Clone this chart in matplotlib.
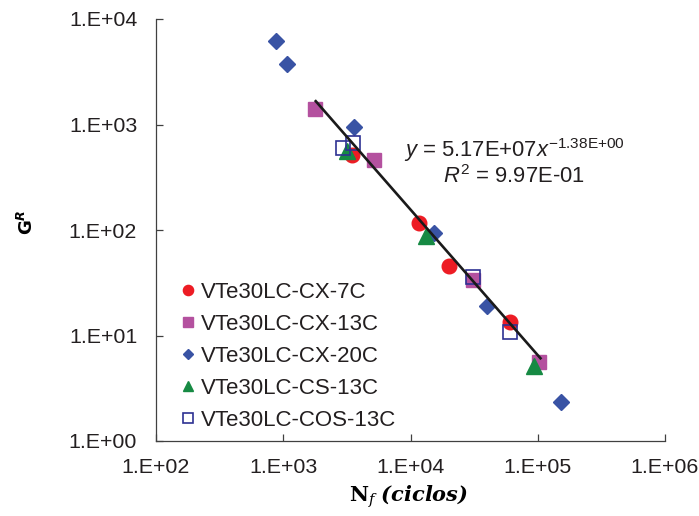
import numpy as np
import matplotlib
matplotlib.use("Agg")
import matplotlib.pyplot as plt

plt.rcParams['font.family'] = ['Liberation Sans', 'DejaVu Sans']
plt.rcParams['mathtext.fontset'] = 'custom'
plt.rcParams['mathtext.rm'] = 'Liberation Sans'
plt.rcParams['mathtext.it'] = 'Liberation Sans:italic'
plt.rcParams['mathtext.bf'] = 'Liberation Sans:bold'

# Fatigue life (cycles) and G^R for each mixture series
cx7_n = [3470, 11640, 20050, 60400]
cx7_g = [514, 116, 45.6, 13.4]

cx13_n = [1774, 5150, 30900, 102000]
cx13_g = [1403, 461, 33.6, 5.61]

cx20_n = [877, 1069, 3590, 15280, 39800, 151700]
cx20_g = [6180, 3740, 946, 93.8, 19.0, 2.34]

cs13_n = [3165, 13210, 93100]
cs13_g = [561, 87.7, 5.14]

cos13_n = [2945, 3530, 30900, 60400]
cos13_g = [598, 669, 35.9, 10.8]

# Power-law fit y = a * x^b
fit_a = 5.17e7
fit_b = -1.38
fit_range = [1800, 105000]

x_ticks = [1e2, 1e3, 1e4, 1e5, 1e6]
x_tick_labels = ["1.E+02", "1.E+03", "1.E+04", "1.E+05", "1.E+06"]
y_ticks = [1e0, 1e1, 1e2, 1e3, 1e4]
y_tick_labels = ["1.E+00", "1.E+01", "1.E+02", "1.E+03", "1.E+04"]

series = [
    ("VTe30LC-CX-7C", cx7_n, cx7_g, dict(marker='o', color='#ED1C24', ms=10.5)),
    ("VTe30LC-CX-13C", cx13_n, cx13_g, dict(marker='s', color='#B4519F', ms=9.5)),
    ("VTe30LC-CX-20C", cx20_n, cx20_g, dict(marker='D', color='#3953A4', ms=8)),
    ("VTe30LC-CS-13C", cs13_n, cs13_g, dict(marker='^', color='#168A43', ms=11)),
    ("VTe30LC-COS-13C", cos13_n, cos13_g,
     dict(marker='s', mfc='none', mec='#2E3192', mew=1.2, ms=9.5)),
]

TXT = '#231F20'
FS = 16

fig = plt.figure(figsize=(6.99, 5.16), dpi=100)
ax = fig.add_axes([156 / 699, 1 - 441 / 516, 509 / 699, 422 / 516])

for label, n, g, style in series:
    kw = dict(style)
    if 'color' in kw:
        c = kw.pop('color')
        kw['mfc'] = c
        kw['mec'] = c
    ax.plot(n, g, linestyle='none', label=label, **kw)

xf = np.logspace(np.log10(fit_range[0]), np.log10(fit_range[1]), 100)
ax.plot(xf, fit_a * xf ** fit_b, color='#1a1a1a', lw=1.9, zorder=3)

ax.set_xscale('log')
ax.set_yscale('log')
ax.set_xlim(1e2, 1e6)
ax.set_ylim(1e0, 1e4)
ax.set_xticks(x_ticks)
ax.set_yticks(y_ticks)
ax.set_xticklabels(x_tick_labels)
ax.set_yticklabels(y_tick_labels)
ax.minorticks_off()
ax.tick_params(which='major', direction='in', length=5, width=0.9,
               color='#404040', labelsize=15.4, labelcolor=TXT)
ax.tick_params(axis='y', pad=13.5)
ax.tick_params(axis='x', pad=12)

for side in ['top', 'right']:
    ax.spines[side].set_visible(False)
for side in ['left', 'bottom']:
    ax.spines[side].set_color('#404040')
    ax.spines[side].set_linewidth(0.9)

# Trend line equation
fig.text(514 / 699, 1 - 157 / 516,
         r"$y$ = 5.17E+07$x^{\mathregular{-1.38E{+}00}}$",
         fontsize=15.8, ha='center', va='baseline', color=TXT)
fig.text(514 / 699, 1 - 183 / 516, r"$R^2$ = 9.97E-01", fontsize=15.8,
         ha='center', va='baseline', color=TXT)

# Axis titles
fig.text(409 / 699, 1 - 497 / 516, r"$\mathbf{N}_{\mathit{f}}\ \mathbfit{(ciclos)}$",
         fontsize=15, ha='center', va='center', math_fontfamily='dejavuserif')
fig.text(27 / 699, 1 - 222 / 516, r"$\mathbf{G}^{\mathbfit{R}}$", fontsize=13,
         rotation=90, ha='center', va='center', math_fontfamily='dejavusans')

leg = ax.legend(loc='upper left', bbox_to_anchor=(0.029, 0.399), frameon=False,
                fontsize=FS, handlelength=0.75, handletextpad=0.2,
                labelspacing=0.5, borderaxespad=0, markerscale=0.7)
for t in leg.get_texts():
    t.set_color(TXT)

fig.savefig("out.png", dpi=100)
